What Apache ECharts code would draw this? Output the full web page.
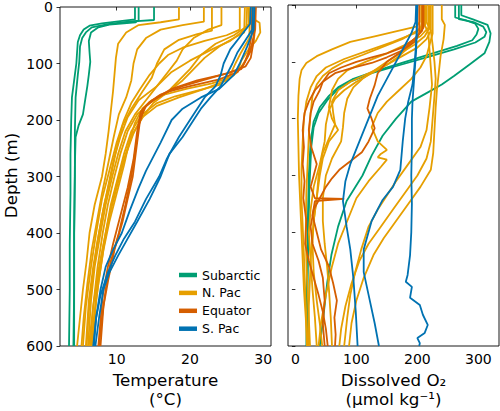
<!DOCTYPE html>
<html><head><meta charset="utf-8">
<script src="https://cdn.jsdelivr.net/npm/echarts@6/dist/echarts.min.js"></script>
<style>html,body{margin:0;padding:0;background:#fff}#c{width:500px;height:411px}</style>
</head><body><div id="c"></div>
<script>
// ---- Data: each profile is a list of [value, depth (m)] ----
const regions = ['Subarctic', 'N. Pac', 'Equator', 'S. Pac'];
const depthTicks = [0, 100, 200, 300, 400, 500, 600];
const tempTicks = [10, 20, 30];
const o2Ticks = [0, 100, 200, 300];

const tempSubarctic = [
  [[12.5,0],[12.5,22],[10.5,25],[8,29],[6.3,33],[5.5,40],[5,50],[4.7,62],[4.6,80],[4.5,100],[4.2,130],[3.9,160],[3.8,200],[3.7,260],[3.7,330],[3.6,420],[3.6,500],[3.5,600]],
  [[13.0,0],[13.0,24],[11,27],[8.5,31],[6.6,36],[5.8,45],[5.3,55],[5,70],[4.9,97],[4.7,120],[4.4,160],[4.3,220],[4.3,300],[4.2,400],[4.2,500],[4.1,600]],
  [[15.1,0],[15.1,23],[12.8,25],[12.6,27],[9,31],[7.5,36],[6.5,45],[6.2,60],[6.3,80],[6.4,97],[6.2,120],[6,140],[5.7,165],[5.4,190],[4.8,210],[4.4,230],[4.3,280],[4.2,400],[4.2,500],[4.2,600]]
];
const tempNPac = [
  [[18.5,0],[18.5,22],[16,27],[13,32],[11.3,45],[10.2,65],[9.9,90],[9.7,120],[9.5,150],[9.2,185],[8.9,220],[8.5,260],[8,300],[7,350],[6.3,400],[5.9,450],[5.4,500],[5,550],[4.6,600]],
  [[21.9,0],[21.9,26],[19,32],[16,40],[14,55],[12.8,75],[12.3,100],[12,130],[11.3,160],[10.3,190],[9.6,230],[8.8,280],[8,330],[7.3,380],[6.6,430],[6,490],[5.5,550],[5.2,600]],
  [[23,0],[23,42],[21,48],[18.5,58],[16.5,75],[15.5,100],[14.8,125],[13.5,150],[12,180],[10.8,210],[10,250],[9.2,300],[8.3,350],[7.6,400],[6.8,460],[6.2,520],[5.8,600]],
  [[24.3,0],[24.3,32],[22.5,40],[20.5,55],[19,75],[18.2,95],[17,115],[15.5,140],[14,165],[12.5,190],[11.2,220],[10.2,260],[9.4,300],[8.5,350],[7.8,400],[7,460],[6.5,520],[6.1,600]],
  [[27.5,0],[27.4,45],[26,55],[24,70],[22,90],[20.5,110],[19,130],[17,150],[14.5,170],[12.8,190],[11.5,220],[10.5,260],[9.7,300],[8.8,350],[8.1,400],[7.4,460],[6.8,530],[6.4,600]],
  [[28.3,0],[28.3,18],[29.5,28],[29.6,45],[29,60],[28,75],[27,95],[26.5,115],[25,130],[22,145],[18.5,160],[15.5,175],[13.5,195],[12,230],[11,270],[10,320],[9,370],[8.3,420],[7.6,480],[7,540],[6.6,600]],
  [[28.2,0],[28.1,55],[27,80],[26.2,100],[25.5,120],[24,138],[21,148],[18,158],[15.5,170],[13.5,190],[12,220],[11,260],[10.2,300],[9.2,350],[8.5,400],[7.8,450],[7.2,510],[6.8,600]],
  [[27.8,0],[27.7,35],[26,50],[23.5,65],[21.5,85],[20,110],[18.5,130],[17,150],[15,170],[13.8,190],[12.4,220],[11.3,260],[10.3,300],[9.3,350],[8.5,400],[7.6,460],[6.8,530],[6.2,600]],
  [[28.8,0],[28.8,50],[28.5,70],[27.8,90],[26.8,110],[25.5,125],[23,135],[19.5,145],[16.5,155],[14.8,165],[13.5,180],[12.5,205],[11.7,240],[11,280],[10,330],[9,380],[8.2,430],[7.5,490],[6.9,550],[6.5,600]],
  [[26.8,0],[26.8,40],[25,50],[22,60],[19,72],[17,85],[15.8,100],[14.5,120],[13.2,145],[12,170],[11,200],[10,240],[9,290],[8,340],[7.2,400],[6.5,460],[5.8,530],[5.4,600]],
  [[28,0],[28,30],[27,45],[25.5,60],[23,75],[20,95],[17.5,115],[15.5,140],[13,165],[11.5,195],[10.5,230],[9.6,270],[8.8,320],[8,370],[7.3,420],[6.7,480],[6.2,540],[5.9,600]]
];
const tempEquator = [
  [[28.5,0],[28.4,50],[28,80],[27.4,100],[26.5,115],[24,128],[20,140],[17,150],[15,165],[14,175],[13.5,190],[13,210],[12.6,250],[12,300],[11.2,350],[10.3,400],[9.2,450],[8.5,500],[8,550],[7.6,600]],
  [[28.8,0],[28.7,60],[28.3,90],[27.6,105],[25,118],[21,130],[17.5,145],[15.5,160],[14.5,170],[13.6,180],[13.2,200],[12.7,250],[12.2,300],[11.5,340],[10.8,380],[9.7,430],[8.9,480],[8.2,530],[7.8,600]],
  [[29,0],[28.9,40],[28.2,80],[27,110],[23,125],[19,140],[16,155],[14.5,168],[13.3,185],[12.8,220],[12.3,270],[11.5,320],[10.5,370],[9.5,420],[8.8,460],[8.1,510],[7.5,600]]
];
const tempSPac = [
  [[28.6,0],[28.5,40],[27.5,60],[26.5,80],[25.8,100],[25,120],[24.2,140],[22.8,160],[21.5,180],[20.5,200],[19,230],[17.2,260],[16,300],[14.5,340],[12.8,380],[11.5,410],[10.2,440],[9,470],[8.2,500],[7.6,550],[7.1,600]],
  [[28.3,0],[28.2,30],[27,50],[25.5,75],[24.6,100],[24.2,120],[23.5,140],[22,160],[21,180],[20,200],[18.5,230],[16.8,270],[15.8,300],[14,340],[12.5,380],[11,410],[9.8,440],[8.8,470],[7.8,510],[7.2,550],[6.8,600]],
  [[28.8,0],[28.7,40],[27.8,70],[26.8,100],[26,120],[24,145],[21.5,160],[19,180],[17.5,200],[16,240],[14,290],[13,320],[11.8,360],[10.7,400],[9.5,430],[8.5,460],[7.8,500],[7.2,550],[6.9,600]]
];

const o2Subarctic = [
  [[262,0],[262,22],[280,27],[295,33],[300,42],[297,52],[290,62],[265,72],[225,85],[180,100],[135,115],[95,130],[70,145],[55,160],[40,180],[30,205],[25,240],[22,300],[20,400],[19,500],[18,600]],
  [[268,0],[268,25],[292,30],[308,38],[313,48],[310,56],[295,66],[260,78],[215,92],[170,106],[125,120],[90,135],[68,150],[52,168],[38,190],[30,215],[26,250],[23,320],[21,420],[20,500],[19,600]],
  [[272,0],[272,18],[290,25],[315,35],[320,50],[318,65],[310,85],[285,105],[260,125],[240,140],[215,155],[190,170],[165,200],[143,230],[125,265],[110,300],[84,345],[70,390],[59,440],[52,490],[45,557],[40,600]]
];
const o2NPac = [
  [[204,0],[204,30],[198,38],[170,45],[130,55],[90,65],[60,78],[35,90],[18,102],[10,115],[7,130],[5,160],[4,200],[5,250],[6,300],[8,350],[10,400],[12,450],[14,500],[17,550],[19,600]],
  [[210,0],[210,35],[200,45],[175,60],[140,75],[110,88],[80,100],[60,112],[45,125],[35,140],[28,160],[25,190],[22,230],[20,280],[18,330],[17,400],[18,450],[20,500],[22,550],[24,600]],
  [[218,0],[218,40],[205,55],[180,70],[150,85],[115,100],[85,115],[70,130],[60,150],[55,180],[60,200],[70,220],[55,240],[45,270],[40,300],[35,340],[30,380],[28,420],[30,470],[35,520],[40,560],[44,600]],
  [[222,0],[222,45],[215,60],[200,75],[175,90],[150,105],[125,120],[100,135],[80,150],[65,165],[55,185],[50,210],[48,240],[40,280],[30,320],[25,360],[22,400],[25,450],[28,500],[32,550],[35,600]],
  [[225,0],[225,50],[220,70],[215,90],[205,110],[190,130],[170,150],[150,170],[135,190],[125,215],[135,240],[150,255],[140,262],[135,268],[150,272],[140,285],[120,310],[100,340],[85,380],[70,420],[60,460],[50,510],[42,560],[38,600]],
  [[240,0],[240,25],[245,35],[243,60],[238,90],[235,120],[232,150],[230,180],[228,220],[226,260],[222,290],[205,320],[185,350],[165,380],[145,410],[128,440],[112,480],[100,520],[92,560],[88,600]],
  [[215,0],[215,30],[222,45],[225,70],[228,100],[230,130],[228,160],[225,200],[222,240],[215,270],[200,300],[180,330],[160,360],[140,390],[120,420],[105,450],[92,490],[82,530],[75,570],[72,600]],
  [[212,0],[212,35],[218,50],[220,80],[222,110],[224,140],[220,180],[215,220],[205,250],[185,280],[165,310],[150,335],[135,360],[120,390],[108,430],[98,470],[90,510],[85,550],[80,600]],
  [[207,0],[207,30],[205,45],[198,60],[185,75],[170,90],[150,105],[120,120],[90,135],[70,150],[60,170],[62,190],[65,210],[55,235],[45,260],[38,300],[35,340],[30,380],[26,430],[24,480],[22,530],[21,600]],
  [[213,0],[213,35],[195,50],[160,65],[120,80],[80,95],[50,110],[35,125],[25,145],[18,170],[14,200],[12,240],[10,290],[10,340],[12,390],[14,440],[16,500],[18,550],[20,600]],
  [[220,0],[220,40],[212,55],[195,70],[172,85],[150,100],[130,115],[110,130],[95,145],[85,165],[80,190],[78,215],[75,240],[60,270],[50,300],[45,340],[45,380],[48,420],[52,460],[55,500],[58,550],[60,600]]
];
const o2Equator = [
  [[203,0],[203,50],[195,65],[175,80],[150,92],[125,102],[95,110],[65,120],[45,135],[32,150],[22,170],[15,190],[12,220],[14,250],[12,280],[15,310],[13,340],[18,380],[16,420],[22,450],[30,480],[38,510],[45,540],[50,570],[53,600]],
  [[208,0],[208,45],[195,60],[175,75],[150,85],[125,92],[100,100],[75,110],[55,120],[45,135],[40,150],[30,170],[25,190],[22,220],[26,250],[35,280],[30,300],[25,320],[32,340],[80,341],[32,345],[28,370],[35,400],[42,430],[55,460],[62,490],[68,520],[64,550],[66,580],[65,600]],
  [[210,0],[210,40],[200,55],[185,70],[170,85],[150,100],[135,120],[130,141],[122,165],[118,182],[125,200],[130,217],[120,240],[109,259],[90,275],[72,290],[60,305],[50,320],[40,340],[30,360],[25,390],[28,420],[38,450],[45,480],[48,520],[45,560],[48,600]]
];
const o2SPac = [
  [[200,0],[199,40],[198,80],[196,110],[194,140],[192,170],[191,200],[191,250],[190,300],[191,350],[190,400],[188,440],[184,475],[181,487],[191,496],[188,515],[204,528],[209,545],[217,563],[212,577],[200,586],[204,595],[203,600]],
  [[199,0],[199,50],[197,80],[195,110],[192,140],[185,170],[180,200],[176,240],[172,290],[160,320],[143,343],[125,380],[112,430],[112,470],[120,510],[130,560],[137,600]],
  [[198,0],[197,30],[190,50],[180,70],[165,100],[150,130],[135,160],[120,200],[105,240],[90,280],[82,310],[78,345],[84,390],[90,430],[95,480],[99,540],[102,600]]
];

// ---- Styling / layout ----
const colors = {'Subarctic':'#009E73','N. Pac':'#E69F00','Equator':'#D55E00','S. Pac':'#0072B2'};
const FONT = 'DejaVu Sans';

function profileSeries(name, profiles, idx) {
  return profiles.map(p => ({
    type: 'line', name: name, xAxisIndex: idx, yAxisIndex: idx, data: p,
    symbol: 'none', showSymbol: false, animation: false, silent: true,
    lineStyle: {color: colors[name], width: 1.8},
    itemStyle: {color: colors[name]}
  }));
}

const series = [].concat(
  profileSeries('Subarctic', tempSubarctic, 0),
  profileSeries('N. Pac', tempNPac, 0),
  profileSeries('Equator', tempEquator, 0),
  profileSeries('S. Pac', tempSPac, 0),
  profileSeries('Subarctic', o2Subarctic, 1),
  profileSeries('N. Pac', o2NPac, 1),
  profileSeries('Equator', o2Equator, 1),
  profileSeries('S. Pac', o2SPac, 1)
);

const tick = {show: true, length: 3.5, lineStyle: {color: '#000', width: 0.8}};
function xAx(idx, min, max, ticks) {
  return {
    type: 'value', gridIndex: idx, min: min, max: max,
    axisLine: {show: false}, splitLine: {show: false},
    axisTick: Object.assign({}, tick, {customValues: ticks}),
    axisLabel: {customValues: ticks, fontFamily: FONT, fontSize: 14, color: '#000', margin: 6}
  };
}
function yAx(idx, showLabels) {
  return {
    type: 'value', gridIndex: idx, min: 0, max: 600, interval: 100, inverse: true,
    axisLine: {show: false}, splitLine: {show: false},
    axisTick: Object.assign({}, tick, {customValues: depthTicks}),
    axisLabel: {show: showLabels, customValues: depthTicks, fontFamily: FONT, fontSize: 14, color: '#000', margin: 7}
  };
}

const chart = echarts.init(document.getElementById('c'), null, {renderer: 'svg', width: 500, height: 411});
chart.setOption({
  animation: false,
  backgroundColor: '#fff',
  grid: [
    {left: 60, top: 5, width: 211, height: 341, show: true, borderColor: '#000', borderWidth: 0.9, backgroundColor: 'transparent'},
    {left: 288, top: 5, width: 211, height: 341, show: true, borderColor: '#000', borderWidth: 0.9, backgroundColor: 'transparent'}
  ],
  xAxis: [xAx(0, 2.27, 31.06, tempTicks), xAx(1, -12.1, 333.8, o2Ticks)],
  yAxis: [yAx(0, true), yAx(1, false)],
  legend: {
    data: regions, orient: 'vertical', left: 179, top: 268.5, padding: 0,
    icon: 'rect', itemWidth: 18, itemHeight: 4.5, itemGap: 4.9,
    selectedMode: false,
    textStyle: {fontFamily: FONT, fontSize: 12.5, color: '#000'}
  },
  graphic: [
    {type: 'text', x: 11, y: 175.5, rotation: Math.PI / 2,
      style: {text: 'Depth (m)', font: '16.7px "DejaVu Sans"', fill: '#000', align: 'center', verticalAlign: 'middle'}},
    {type: 'text', x: 165.5, y: 380,
      style: {text: 'Temperature', font: '16.7px "DejaVu Sans"', fill: '#000', align: 'center', verticalAlign: 'middle'}},
    {type: 'text', x: 165.5, y: 399,
      style: {text: '(°C)', font: '16.7px "DejaVu Sans"', fill: '#000', align: 'center', verticalAlign: 'middle'}},
    {type: 'text', x: 393.5, y: 380,
      style: {text: 'Dissolved O₂', font: '16.7px "DejaVu Sans"', fill: '#000', align: 'center', verticalAlign: 'middle'}},
    {type: 'text', x: 393.5, y: 399,
      style: {text: '(μmol kg⁻¹)', font: '16.7px "DejaVu Sans"', fill: '#000', align: 'center', verticalAlign: 'middle'}}
  ],
  series: series
});
</script>
</body></html>
